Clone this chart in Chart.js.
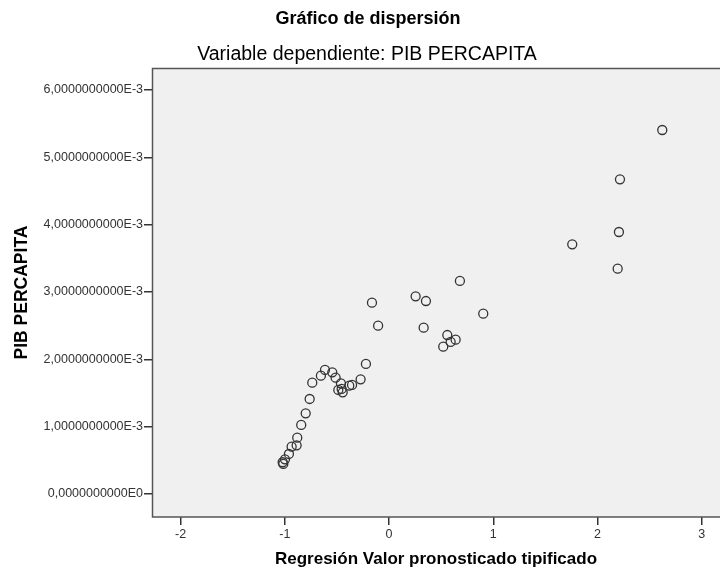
<!DOCTYPE html>
<html>
<head>
<meta charset="utf-8">
<script src="https://cdn.jsdelivr.net/npm/chart.js@4"></script>
<style>
  body { margin: 0; background: #fff; }
  canvas { display: block; }
</style>
</head>
<body>
<canvas id="myChart" width="720" height="572"></canvas>
<script>
// standardized predicted value (x) vs PIB PERCAPITA (y)
var predicted = [-1.015, -1.021, -0.999, -0.961, -0.935, -0.887, -0.881, -0.843, -0.800, -0.762,
                 -0.737, -0.654, -0.615, -0.545, -0.513, -0.462, -0.487, -0.445, -0.455, -0.382,
                 -0.355, -0.273, -0.222, -0.164, -0.105, 0.255, 0.354, 0.332, 0.680, 0.904,
                 0.559, 0.639, 0.591, 0.520, 1.758, 2.194, 2.206, 2.216, 2.622];
var pib = [0.000446, 0.000471, 0.000515, 0.000594, 0.000703, 0.000723, 0.000836, 0.001025, 0.001198, 0.001411,
           0.001653, 0.001757, 0.001842, 0.001807, 0.001727, 0.001644, 0.001545, 0.001510, 0.001560, 0.001609,
           0.001619, 0.001703, 0.001931, 0.002841, 0.002500, 0.002936, 0.002866, 0.002470, 0.003164, 0.002678,
           0.002361, 0.002292, 0.002258, 0.002188, 0.003708, 0.003346, 0.003891, 0.004674, 0.005406];
var xTicks = [-2, -1, 0, 1, 2, 3];
var yTicks = [0, 0.001, 0.002, 0.003, 0.004, 0.005, 0.006];

var chartTitle = 'Gráfico de dispersión';
var chartSubtitle = 'Variable dependiente: PIB PERCAPITA';
var xTitle = 'Regresión Valor pronosticado tipificado';
var yTitle = 'PIB PERCAPITA';

var points = predicted.map(function (v, i) { return {x: v, y: pib[i]}; });

function fmtY(v) {
  if (Math.abs(v) < 1e-12) return '0,0000000000E0';
  return (v * 1000).toFixed(10).replace('.', ',') + 'E-3';
}

var FONT = '"Liberation Sans", Arial, sans-serif';

var frame = {
  id: 'frame',
  beforeDraw: function (chart) {
    var a = chart.chartArea, c = chart.ctx;
    c.save();
    c.fillStyle = '#f0f0f0';
    c.fillRect(a.left, a.top, a.right - a.left, a.bottom - a.top);
    c.restore();
  },
  afterDraw: function (chart) {
    var a = chart.chartArea, c = chart.ctx;
    c.save();
    c.strokeStyle = '#555';
    c.lineWidth = 1.5;
    c.beginPath();
    c.moveTo(a.right, a.top + 0.5);
    c.lineTo(a.left + 0.5, a.top + 0.5);
    c.lineTo(a.left + 0.5, a.bottom);
    c.lineTo(a.right, a.bottom);
    c.stroke();

    c.fillStyle = '#000';
    c.textAlign = 'center';
    c.textBaseline = 'middle';
    c.font = 'bold 18px ' + FONT;
    c.fillText(chartTitle, 368, 19);
    c.font = '19.5px ' + FONT;
    c.fillText(chartSubtitle, 367, 55);
    c.font = 'bold 17px ' + FONT;
    c.fillText(xTitle, (a.left + a.right) / 2, 559);
    c.translate(22, (a.top + a.bottom) / 2);
    c.rotate(-Math.PI / 2);
    c.font = 'bold 17.5px ' + FONT;
    c.fillText(yTitle, 0, 0);
    c.restore();
  }
};

var ctx = document.getElementById('myChart').getContext('2d');
var myChart = new Chart(ctx, {
  type: 'scatter',
  data: {
    datasets: [{
      data: points,
      borderColor: '#333',
      backgroundColor: 'rgba(0,0,0,0)',
      borderWidth: 1.3,
      pointRadius: 4.5,
      pointHoverRadius: 4.5
    }]
  },
  options: {
    responsive: false,
    devicePixelRatio: 1,
    animation: false,
    layout: { autoPadding: false, padding: { top: 68, left: 0, right: 0, bottom: 0 } },
    plugins: {
      legend: { display: false },
      tooltip: { enabled: false }
    },
    scales: {
      x: {
        type: 'linear',
        min: -2.275,
        max: 3.176,
        afterBuildTicks: function (axis) { axis.ticks = xTicks.map(function (v) { return {value: v}; }); },
        afterFit: function (axis) { axis.height = 55; },
        grid: { drawOnChartArea: false, drawTicks: true, tickLength: 8, color: '#333', lineWidth: 1.5 },
        border: { display: false },
        ticks: {
          padding: 2,
          color: '#333',
          font: { family: FONT, size: 12.5 },
          callback: function (v) { return String(v); }
        }
      },
      y: {
        type: 'linear',
        min: -0.000342,
        max: 0.006327,
        afterBuildTicks: function (axis) { axis.ticks = yTicks.map(function (v) { return {value: v}; }); },
        afterFit: function (axis) { axis.width = 152; },
        grid: { drawOnChartArea: false, drawTicks: true, tickLength: 8, color: '#333', lineWidth: 1.5 },
        border: { display: false },
        ticks: {
          padding: 1,
          color: '#333',
          font: { family: FONT, size: 12.5 },
          callback: function (v) { return fmtY(v); }
        }
      }
    }
  },
  plugins: [frame]
});
</script>
</body>
</html>
